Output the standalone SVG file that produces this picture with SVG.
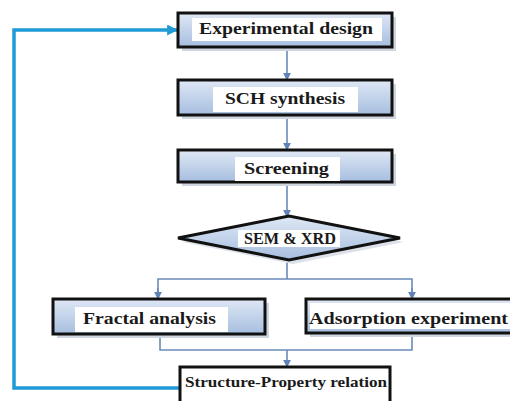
<svg xmlns="http://www.w3.org/2000/svg" width="510" height="401" viewBox="0 0 510 401">
  <defs>
    <linearGradient id="boxFill" x1="0" y1="0" x2="0" y2="1">
      <stop offset="0" stop-color="#dfe8f5"/>
      <stop offset="1" stop-color="#a6bedf"/>
    </linearGradient>
    <marker id="arrowGray" viewBox="0 0 10 10" refX="9" refY="5" markerWidth="8" markerHeight="8" orient="auto" markerUnits="userSpaceOnUse">
      <path d="M0,0 L10,5 L0,10 Z" fill="#5f82b8"/>
    </marker>
    <marker id="arrowBlue" viewBox="0 0 10 10" refX="9" refY="5" markerWidth="11" markerHeight="11" orient="auto" markerUnits="userSpaceOnUse">
      <path d="M0,0 L10,5 L0,10 Z" fill="#1f9ad6"/>
    </marker>
  </defs>
  <style>
    .shadow { fill: #cfd6e0; }
    .box { fill: url(#boxFill); stroke: #111; stroke-width: 3; }
    .plain { fill: #ffffff; stroke: #111; stroke-width: 3; }
    .label { fill: #ffffff; }
    .txt { font-family: "Liberation Serif", "DejaVu Serif", serif; font-weight: bold; fill: #1a1a1a; }
    .flow { fill: none; stroke: #6a8abb; stroke-width: 1.6; }
    .loop { fill: none; stroke: #1f9ad6; stroke-width: 3.5; }
  </style>

  <rect width="510" height="401" fill="#ffffff"/>

  <!-- connectors -->
  <g id="connectors">
    <line class="flow" x1="287" y1="47" x2="287" y2="80" marker-end="url(#arrowGray)"/>
    <line class="flow" x1="287" y1="115" x2="287" y2="150" marker-end="url(#arrowGray)"/>
    <line class="flow" x1="287" y1="182" x2="287" y2="217" marker-end="url(#arrowGray)"/>
    <line class="flow" x1="287" y1="259" x2="287" y2="279"/>
    <polyline class="flow" points="158,298 158,279 412,279 412,298"/>
    <line class="flow" x1="158" y1="288" x2="158" y2="299" marker-end="url(#arrowGray)"/>
    <line class="flow" x1="412" y1="288" x2="412" y2="299" marker-end="url(#arrowGray)"/>
    <polyline class="flow" points="160,334 160,350 412,350 412,333"/>
    <line class="flow" x1="287" y1="350" x2="287" y2="367" marker-end="url(#arrowGray)"/>
    <polyline class="loop" points="180,388 14,388 14,30 177,30" marker-end="url(#arrowBlue)"/>
  </g>

  <!-- Experimental design -->
  <g id="experimental-design">
    <rect class="shadow" x="182" y="17" width="214" height="34"/>
    <rect class="box" x="178" y="13" width="214" height="34"/>
    <rect class="label" x="192" y="18" width="190" height="23"/>
    <text class="txt" x="286" y="34" font-size="17.5" text-anchor="middle" textLength="174" lengthAdjust="spacingAndGlyphs">Experimental design</text>
  </g>

  <!-- SCH synthesis -->
  <g id="sch-synthesis">
    <rect class="shadow" x="182" y="84" width="214" height="35"/>
    <rect class="box" x="178" y="80" width="214" height="35"/>
    <rect class="label" x="213" y="87" width="145" height="25"/>
    <text class="txt" x="285" y="103.5" font-size="17.5" text-anchor="middle" textLength="120" lengthAdjust="spacingAndGlyphs">SCH synthesis</text>
  </g>

  <!-- Screening -->
  <g id="screening">
    <rect class="shadow" x="182" y="154" width="214" height="32"/>
    <rect class="box" x="178" y="150" width="214" height="32"/>
    <rect class="label" x="235" y="157" width="105" height="24"/>
    <text class="txt" x="286.5" y="173.5" font-size="17.5" text-anchor="middle" textLength="85" lengthAdjust="spacingAndGlyphs">Screening</text>
  </g>

  <!-- SEM & XRD decision -->
  <g id="sem-xrd">
    <polygon points="182,242 293,220 404,242 293,264" fill="#dde2ea"/>
    <polygon class="box" points="178,238 289,216 400,238 289,260"/>
    <rect class="label" x="238" y="230" width="102" height="17"/>
    <text class="txt" x="290" y="243.5" font-size="17" text-anchor="middle" textLength="92" lengthAdjust="spacingAndGlyphs">SEM &amp; XRD</text>
  </g>

  <!-- Fractal analysis -->
  <g id="fractal-analysis">
    <rect class="shadow" x="57" y="303" width="212" height="35"/>
    <rect class="box" x="53" y="299" width="212" height="35"/>
    <rect class="label" x="75" y="307" width="153" height="25"/>
    <text class="txt" x="149.5" y="323.5" font-size="17.5" text-anchor="middle" textLength="133" lengthAdjust="spacingAndGlyphs">Fractal analysis</text>
  </g>

  <!-- Adsorption experiment -->
  <g id="adsorption-experiment">
    <rect class="shadow" x="310" y="303" width="220" height="34"/>
    <rect class="box" x="306" y="299" width="220" height="34"/>
    <rect class="label" x="310" y="303" width="210" height="26"/>
    <text class="txt" x="408.5" y="323.5" font-size="17.5" text-anchor="middle" textLength="199" lengthAdjust="spacingAndGlyphs">Adsorption experiment</text>
  </g>

  <!-- Structure-Property relation -->
  <g id="structure-property">
    <rect class="plain" x="180" y="367" width="210" height="40"/>
    <text class="txt" x="286" y="386.5" font-size="14.5" text-anchor="middle" textLength="202" lengthAdjust="spacingAndGlyphs">Structure-Property relation</text>
  </g>
</svg>
